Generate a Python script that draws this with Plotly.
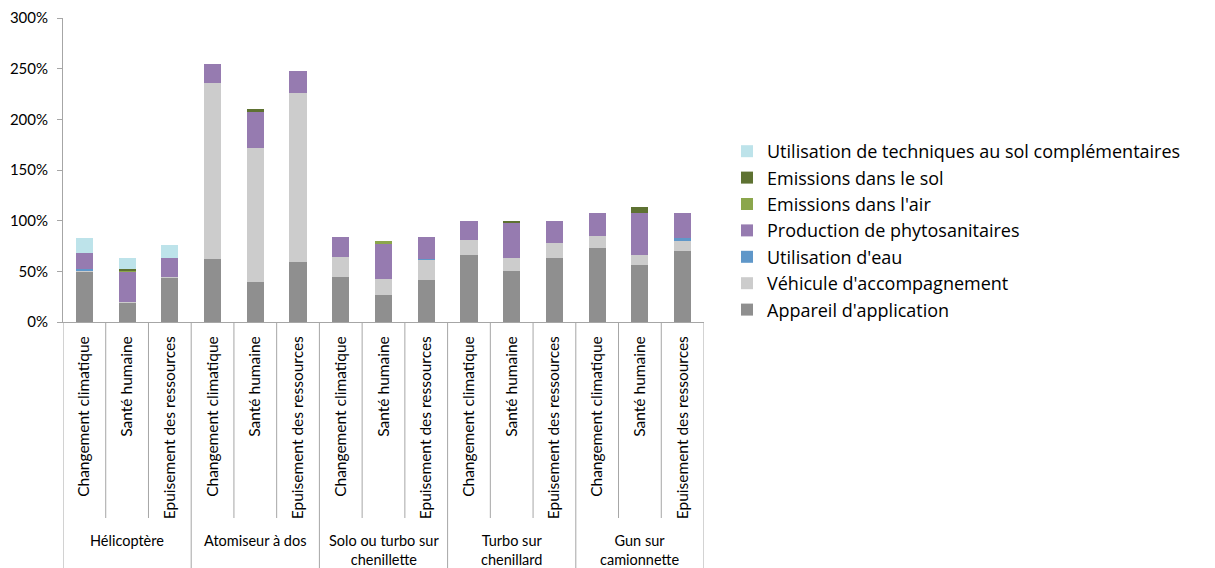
import plotly.graph_objects as go

groups = ["Hélicoptère", "Atomiseur à dos", "Solo ou turbo sur<br>chenillette",
          "Turbo sur<br>chenillard", "Gun sur<br>camionnette"]
indicators = ["Changement climatique", "Santé humaine", "Epuisement des ressources"]

# values in % per bar (15 bars: 5 groups x 3 indicators)
appareil = [50, 19, 43.5, 62, 39, 59, 44, 26.3, 41.5, 66, 50.6, 63.3, 72.7, 56.5, 70]
vehicule = [0.5, 0.5, 0.5, 173.5, 133, 167, 20.3, 16.5, 20, 14.8, 12.4, 14.7, 12, 9.5, 10.8]
eau = [1.5, 0, 0, 0, 0, 0, 0, 0, 0.5, 0, 0, 0, 0, 0, 1.7]
phyto = [16.5, 30.5, 19.5, 19.3, 35.4, 22, 19.4, 33.8, 21.7, 19.2, 34.4, 22, 23.3, 42, 25.5]
air = [0, 0.3, 0, 0, 0, 0, 0, 2.9, 0, 0, 0, 0, 0, 0, 0]
sol = [0, 2.5, 0, 0, 2.6, 0, 0, 0, 0, 0, 2.6, 0, 0, 5.6, 0]
util = [14, 10.7, 12.5, 0, 0, 0, 0, 0, 0, 0, 0, 0, 0, 0, 0]

series = [
    ("Appareil d'application", appareil, "#8f8f8f"),
    ("Véhicule d'accompagnement", vehicule, "#cccccc"),
    ("Utilisation d'eau", eau, "#5f97c9"),
    ("Production de phytosanitaires", phyto, "#967bb0"),
    ("Emissions dans l'air", air, "#8ba64c"),
    ("Emissions dans le sol", sol, "#5e7232"),
    ("Utilisation de techniques au sol complémentaires", util, "#bde3ea"),
]

nsub = len(indicators)
labels = [i for _ in groups for i in indicators]
n = len(labels)
xpos = list(range(n))

fig = go.Figure()
for name, vals, col in series:
    fig.add_trace(go.Bar(x=xpos, y=vals, name=name, marker_color=col,
                         marker_line_width=0, width=0.4))

W, H = 1215, 568
L, R, T = 55, 519, 10
plot_h = H - T
axis_y_fig = 314          # figure y of the x axis line
sub_line_bottom = 510     # figure y where indicator separators end
y_dom0 = (H - axis_y_fig) / plot_h
line_col = "#a6a6a6"

# separators: between indicators (short) and between groups (to bottom)
for k in range(0, n + 1):
    is_group = (k % nsub == 0)
    fig.add_shape(type="line", xref="x", yref="paper",
                  x0=k - 0.5, x1=k - 0.5, y0=y_dom0,
                  y1=-0.02 if is_group else (H - sub_line_bottom) / plot_h,
                  line=dict(color=line_col, width=1))

# group labels
for gi, g in enumerate(groups):
    fig.add_annotation(x=gi * nsub + (nsub - 1) / 2, xref="x",
                       y=(H - 522) / plot_h, yref="paper",
                       yanchor="top", xanchor="center", showarrow=False,
                       text=g, font=dict(size=14.5), align="center")

font = "Lato, Carlito, Open Sans, sans-serif"
fig.update_layout(
    barmode="stack",
    width=W, height=H,
    margin=dict(l=L, r=R, t=T, b=0, autoexpand=False),
    plot_bgcolor="white", paper_bgcolor="white",
    font=dict(family=font, size=14, color="black"),
    showlegend=True,
    legend=dict(x=(719 - L) / (W - L - R), y=(H - 125) / plot_h,
                xanchor="left", yanchor="top",
                traceorder="reversed",
                font=dict(size=18, family="Open Sans, sans-serif"),
                itemwidth=30, tracegroupgap=0),
    yaxis=dict(range=[0, 300], dtick=50, ticksuffix="%", showgrid=False,
               showline=True, linecolor=line_col, ticks="outside",
               ticklen=5, tickcolor=line_col, tickfont=dict(size=15),
               ticklabelstandoff=6, ticklabeloverflow="allow",
               zeroline=False, domain=[y_dom0, 1]),
    xaxis=dict(range=[-0.5, n - 0.5], tickvals=xpos, ticktext=labels,
               showline=True, linecolor=line_col, showgrid=False,
               zeroline=False, ticks="", tickangle=-90,
               ticklabelstandoff=7, tickfont=dict(size=15.5)),
)
fig.write_html("out.html")
